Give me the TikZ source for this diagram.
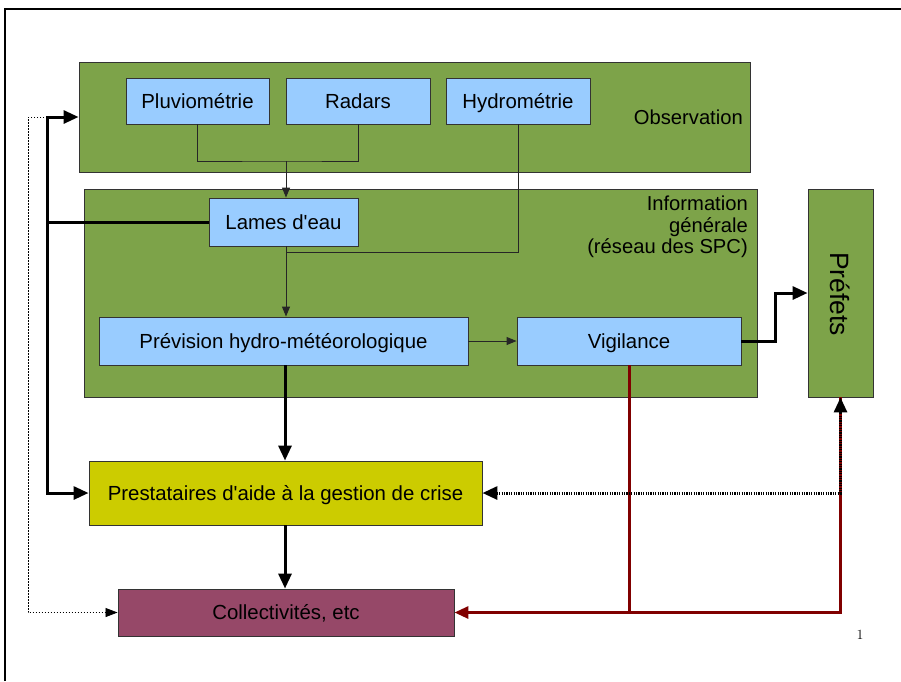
\documentclass[tikz,border=0pt]{standalone}
\usepackage{fontspec}
\newfontfamily\sansf{Liberation Sans}
\usetikzlibrary{arrows.meta,calc}
\definecolor{grn}{HTML}{7DA349}
\definecolor{blu}{HTML}{99CCFF}
\definecolor{yel}{HTML}{CCCC00}
\definecolor{pur}{HTML}{964868}
\definecolor{dred}{HTML}{800000}
\definecolor{edge}{HTML}{333333}
\begin{document}
\begin{tikzpicture}[x=1pt,y=-1pt,
  box/.style={draw=edge,line width=0.9pt,inner sep=0pt,anchor=center,
    font=\sansf\fontsize{20.4}{23}\selectfont,text=black,text height=16pt,text depth=2pt},
  thin/.style={draw=black!85,line width=1pt},
  thinarr/.style={thin,-{Triangle[length=10pt,width=8pt]}},
  thk/.style={draw=black,line width=3pt},
  thkhead/.style={-{Triangle[length=15pt,width=13pt]}},
  redl/.style={draw=dred,line width=3pt},
  lbl/.style={font=\sansf\fontsize{20.2}{21.5}\selectfont,text=black,inner sep=0pt}]
\useasboundingbox (0,0) rectangle (901,681);
% page frame
\draw[line width=1.2pt] (5,681) -- (5,9) -- (901,9);
% group boxes
\node[box,fill=grn,minimum width=671pt,minimum height=110pt] (obs) at (414.5,117) {};
\node[box,fill=grn,minimum width=673pt,minimum height=208pt] (info) at (420.5,293) {};
\node[box,fill=grn,minimum width=65pt,minimum height=208pt] (pref) at (840.5,293) {};
\node[lbl,anchor=east] (obst) at (743,117) {Observation};
\node[lbl,anchor=east,align=right] (infot) at (748,227) {Information\\générale\\(réseau des SPC)};
\node[font=\sansf\fontsize{26.5}{30}\selectfont,rotate=-90,inner sep=0pt] (preft) at (840.5,294) {Préfets};
% inner boxes
\node[box,fill=blu,minimum width=143pt,minimum height=46pt] (pluvio) at (197.5,101) {Pluviométrie};
\node[box,fill=blu,minimum width=144pt,minimum height=46pt] (radars) at (358,101) {Radars};
\node[box,fill=blu,minimum width=144pt,minimum height=46pt] (hydro) at (518,101) {Hydrométrie};
\node[box,fill=blu,minimum width=149pt,minimum height=48pt] (lames) at (283.5,222) {Lames d'eau};
\node[box,fill=blu,minimum width=369pt,minimum height=48pt] (prev) at (283.5,341) {Prévision hydro-météorologique};
\node[box,fill=blu,minimum width=224pt,minimum height=48pt] (vig) at (629,341) {Vigilance};
\node[box,fill=yel,minimum width=393pt,minimum height=64pt] (prest) at (285.5,493) {Prestataires d'aide à la gestion de crise};
\node[box,fill=pur,minimum width=336pt,minimum height=47pt] (coll) at (286,612.5) {Collectivités, etc};
\node[font=\fontsize{14}{16}\selectfont,inner sep=0pt] (pnum) at (860,635) {1};
% coordinates
\coordinate (j1) at (286,161);
\coordinate (j2) at (286,252);
\coordinate (L) at (47,117);
% thin connectors
\draw[thin] (pluvio.south) |- (j1) -| (radars.south);
\draw[thinarr] (j1) -- (j1 |- lames.north);
\draw[thin] (hydro.south) |- (j2);
\draw[thinarr] (j2 |- lames.south) -- (j2 |- prev.north);
\draw[thinarr] (prev.east) -- (vig.west);
% thick connectors
\draw[thk,thkhead] (vig.east) -- ++(34,0) |- (pref.west);
\draw[thk,thkhead] (prev.south -| 285,0) -- (prest.north -| 285,0);
\draw[thk,thkhead] (prest.south -| 285,0) -- (coll.north -| 285,0);
\draw[thk,thkhead] (L) |- (prest.west);
\draw[thk,thkhead] (L |- lames.west) -- (L) -- (obs.west);
\draw[thk] (lames.west) -- (L |- lames.west);
% dotted thin
\draw[draw=black,line width=0.8pt,dash pattern=on 1.5pt off 1.5pt,-{Triangle[length=12pt,width=9pt]}] (L) -- ++(-19,0) |- (coll.west);
% red connectors
\draw[redl,-{Triangle[length=14pt,width=12pt]},dred] (pref.south) |- (coll.east);
\draw[redl] (vig.south) -- (vig.south |- coll.east);
% dotted thick black
\draw[draw=black,line width=3pt,dash pattern=on 1.2pt off 1.2pt,{Triangle[length=15pt,width=13pt]}-{Triangle[length=15pt,width=13pt]}] (prest.east) -| (pref.south);
\end{tikzpicture}
\end{document}
